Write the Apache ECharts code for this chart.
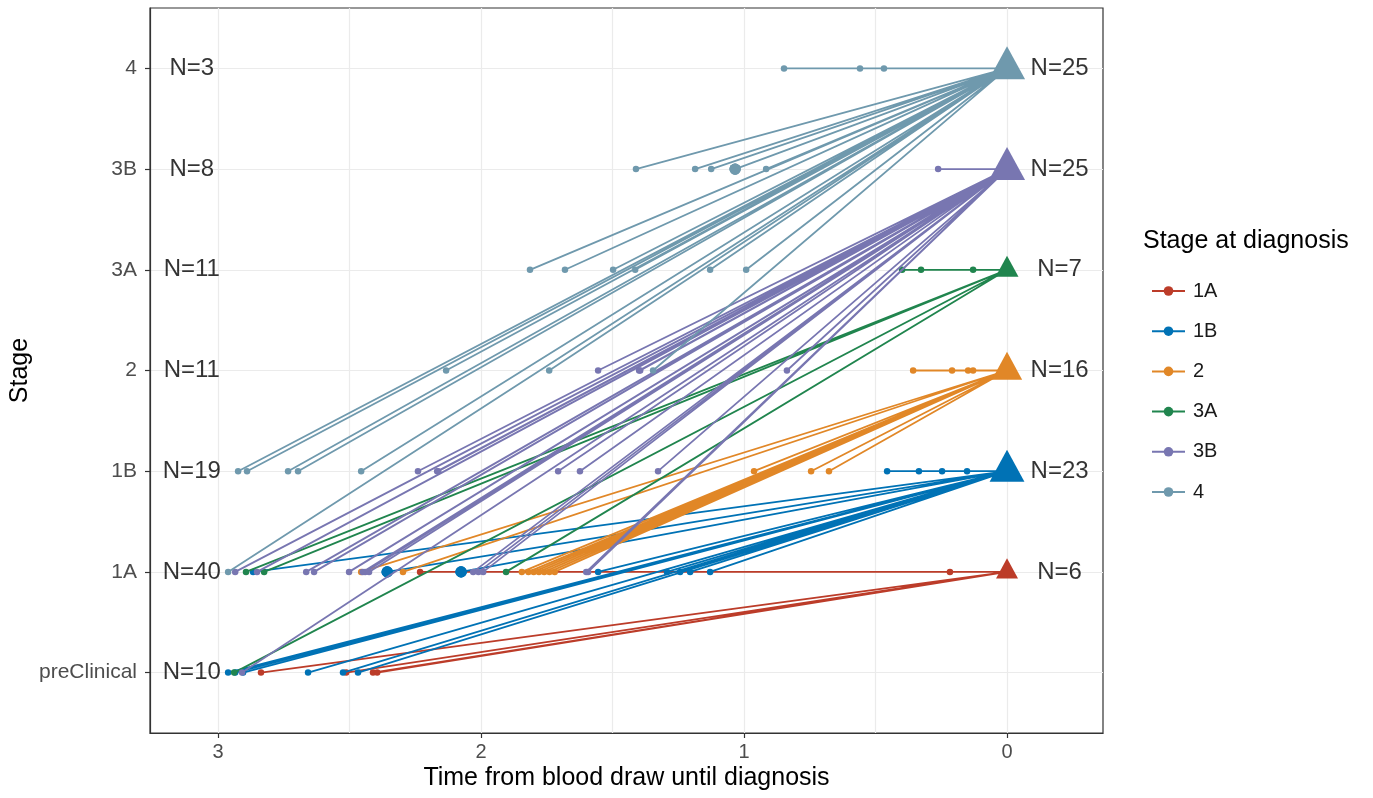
<!DOCTYPE html>
<html>
<head>
<meta charset="utf-8">
<script src="https://cdn.jsdelivr.net/npm/echarts@6/dist/echarts.min.js"></script>
<style>
  html, body { margin: 0; padding: 0; background: #fff; }
  #main { width: 1373px; height: 798px; }
</style>
</head>
<body>
<div id="main"></div>
<script>
// stages on the y axis (bottom to top)
var stages = ['preClinical', '1A', '1B', '2', '3A', '3B', '4'];
var diagStages = ['1A', '1B', '2', '3A', '3B', '4'];
var colors = ['#BC3C29', '#0072B5', '#E18727', '#20854E', '#7876B1', '#6F99AD'];
var xTicks = [0, 1, 2, 3];
var xGrid = [0, 0.5, 1, 1.5, 2, 2.5, 3];

// N per stage at blood draw (left) and at diagnosis (right)
var leftN = [10, 40, 19, 11, 11, 8, 3];
var rightN = [6, 23, 16, 7, 25, 25];

// time from blood draw until diagnosis + stage at blood draw, per stage at diagnosis
var time1A = [2.232, 0.217, 2.837, 2.513, 2.411, 2.395];
var from1A = ['1A', '1A', 'preClinical', 'preClinical', 'preClinical', 'preClinical'];

var time1B = [0.456, 0.335, 0.247, 0.152,
  2.962, 2.935, 2.905, 2.658, 2.525, 2.468,
  2.867, 2.357, 2.357, 2.357, 2.076, 2.076, 2.076, 1.555, 1.293, 1.243, 1.205, 1.129];
var from1B = ['1B', '1B', '1B', '1B',
  'preClinical', 'preClinical', 'preClinical', 'preClinical', 'preClinical', 'preClinical',
  '1A', '1A', '1A', '1A', '1A', '1A', '1A', '1A', '1A', '1A', '1A', '1A'];

var time2 = [0.357, 0.209, 0.148, 0.129, 0.962, 0.745, 0.677,
  2.456, 2.297, 1.845, 1.82, 1.80, 1.78, 1.76, 1.74, 1.72];
var from2 = ['2', '2', '2', '2', '1B', '1B', '1B',
  '1A', '1A', '1A', '1A', '1A', '1A', '1A', '1A', '1A'];

var time3A = [0.399, 0.327, 0.129, 2.894, 2.825, 1.905, 2.939];
var from3A = ['3A', '3A', '3A', '1A', '1A', '1A', 'preClinical'];

var time3B = [0.262, 1.555, 1.399, 1.395, 0.837,
  2.240, 2.167, 2.163, 1.707, 1.624, 1.327, 2.909,
  2.935, 2.852, 2.665, 2.635, 2.502, 2.441, 2.426, 2.030, 1.992, 1.593, 2.01, 1.60, 2.45];
var from3B = ['3B', '2', '2', '2', '2',
  '1B', '1B', '1B', '1B', '1B', '1B', 'preClinical',
  '1A', '1A', '1A', '1A', '1A', '1A', '1A', '1A', '1A', '1A', '1A', '1A', '1A'];

var time4 = [0.848, 0.559, 0.468,
  1.411, 1.186, 1.125, 1.034, 1.034, 1.034, 0.916,
  1.814, 1.681, 1.498, 1.414, 1.129, 0.992,
  2.133, 1.741, 1.346,
  2.924, 2.890, 2.734, 2.696, 2.456, 2.962];
var from4 = ['4', '4', '4',
  '3B', '3B', '3B', '3B', '3B', '3B', '3B',
  '3A', '3A', '3A', '3A', '3A', '3A',
  '2', '2', '2',
  '1B', '1B', '1B', '1B', '1B', '1A'];

var groups = [
  [time1A, from1A], [time1B, from1B], [time2, from2],
  [time3A, from3A], [time3B, from3B], [time4, from4]
];

var myChart = echarts.init(document.getElementById('main'));
var font = 'Liberation Sans, Arial, sans-serif';

// one segment per patient, broken by '-'
function segData(g, d) {
  var times = groups[g][0], froms = groups[g][1];
  var out = [];
  for (var i = 0; i < times.length; i++) {
    var k = 0;
    for (var j = 0; j < times.length; j++) {
      if (times[j] === times[i] && froms[j] === froms[i]) k++;
    }
    out.push([times[i], stages.indexOf(froms[i]), k]);
    out.push([0, stages.indexOf(d), 0]);
    out.push(['-', '-', 0]);
  }
  return out;
}

var series = [];
// grid lines
series.push({
  type: 'line', data: [], silent: true, z: 0,
  markLine: {
    silent: true, symbol: 'none', label: { show: false }, z: 0,
    lineStyle: { color: '#EBEBEB', width: 1.2, type: 'solid' },
    emphasis: { disabled: true },
    data: xGrid.map(function (v) { return { xAxis: v }; })
      .concat(stages.map(function (s, i) { return { yAxis: i }; }))
  }
});

diagStages.forEach(function (d, g) {
  series.push({
    name: d,
    type: 'line',
    data: segData(g, d),
    symbol: 'circle',
    symbolSize: function (v) { return v[2] ? 6.5 * Math.sqrt(v[2]) : 0; },
    showSymbol: true,
    connectNulls: false,
    lineStyle: { width: 1.8, color: colors[g] },
    itemStyle: { color: colors[g] },
    emphasis: { disabled: true },
    z: 2 + g * 0.01
  });
});

// triangles at diagnosis
series.push({
  type: 'scatter',
  symbol: 'triangle',
  symbolOffset: [0, '-17%'],
  symbolSize: function (v) {
    var s = Math.sqrt(484 + 43 * (v[2] - 6));
    return [s, s * 0.92];
  },
  data: diagStages.map(function (d, i) {
    return { value: [0, stages.indexOf(d), rightN[i]], itemStyle: { color: colors[i], opacity: 1 } };
  }),
  itemStyle: { opacity: 1 },
  emphasis: { disabled: true },
  z: 4
});

// N labels
var nLabel = {
  show: true, position: 'inside', formatter: '{b}',
  fontSize: 24, color: '#000', fontFamily: font
};
series.push({
  type: 'scatter', symbolSize: 1, itemStyle: { color: 'rgba(0,0,0,0)' },
  data: leftN.map(function (n, i) { return { name: 'N=' + n, value: [3.1, i] }; }),
  label: nLabel, emphasis: { disabled: true }, z: 5
});
series.push({
  type: 'scatter', symbolSize: 1, itemStyle: { color: 'rgba(0,0,0,0)' },
  data: rightN.map(function (n, i) { return { name: 'N=' + n, value: [-0.2, stages.indexOf(diagStages[i])] }; }),
  label: nLabel, emphasis: { disabled: true }, z: 5
});

myChart.setOption({
  animation: false,
  textStyle: { fontFamily: font },
  title: {
    text: 'Stage at diagnosis', left: 1143, top: 229, padding: 0,
    textStyle: { fontSize: 25, fontWeight: 'normal', color: '#000', fontFamily: font }
  },
  legend: {
    data: diagStages,
    orient: 'vertical',
    left: 1146, top: 276,
    itemWidth: 33, itemHeight: 12, itemGap: 20.2,
    textStyle: { fontSize: 20, color: '#1a1a1a', lineHeight: 20, padding: [0, 0, 0, 3] },
    selectedMode: false
  },
  grid: {
    left: 150, right: 270, top: 8, bottom: 65,
    outerBoundsMode: 'none',
    show: true, borderColor: '#333333', borderWidth: 1.2, backgroundColor: '#fff'
  },
  xAxis: {
    type: 'value', inverse: true, min: -0.365, max: 3.259,
    name: 'Time from blood draw until diagnosis', nameLocation: 'middle', nameGap: 33,
    nameMoveOverlap: false,
    nameTextStyle: { fontSize: 25, color: '#000' },
    axisLine: { show: true, onZero: false, lineStyle: { color: '#333333', width: 1.2 } },
    axisTick: { show: true, customValues: xTicks, length: 5, lineStyle: { color: '#333333', width: 1.2 } },
    axisLabel: { customValues: xTicks, fontSize: 20, color: '#4D4D4D', margin: 9 },
    splitLine: { show: false }
  },
  yAxis: {
    type: 'value', min: -0.6, max: 6.6,
    name: 'Stage', nameLocation: 'middle', nameGap: 117,
    nameMoveOverlap: false,
    nameTextStyle: { fontSize: 25, color: '#000' },
    axisLine: { show: true, onZero: false, lineStyle: { color: '#333333', width: 1.2 } },
    axisTick: { show: true, customValues: [0, 1, 2, 3, 4, 5, 6], length: 5, lineStyle: { color: '#333333', width: 1.2 } },
    axisLabel: {
      customValues: [0, 1, 2, 3, 4, 5, 6], fontSize: 21, color: '#4D4D4D', margin: 13,
      formatter: function (v) { return stages[v]; }
    },
    splitLine: { show: false }
  },
  series: series
});
</script>
</body>
</html>
